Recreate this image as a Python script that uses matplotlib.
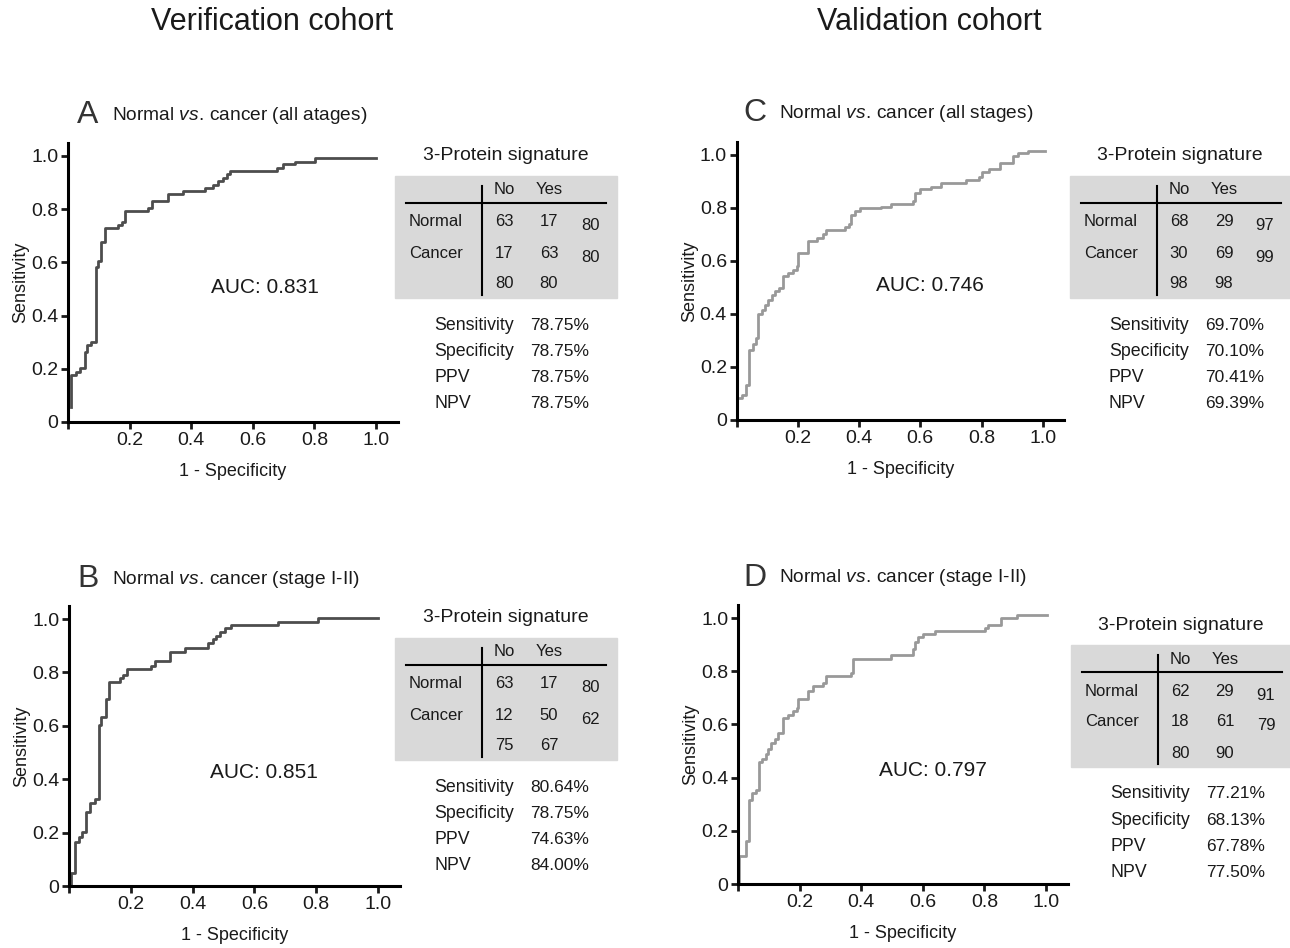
import matplotlib
matplotlib.use('Agg')
import matplotlib.pyplot as plt
from matplotlib.patches import Rectangle
from matplotlib.lines import Line2D

plt.rcParams['font.family'] = ['Liberation Sans', 'DejaVu Sans']
plt.rcParams['mathtext.fontset'] = 'custom'
plt.rcParams['mathtext.rm'] = 'Liberation Sans'
plt.rcParams['mathtext.it'] = 'Liberation Sans:italic'

W, H = 1290, 948

# ROC curves (1 - specificity, sensitivity)
fpr_a = [0.011, 0.011, 0.025, 0.038, 0.054, 0.062, 0.076, 0.090, 0.098, 0.108, 0.119, 0.163, 0.176, 0.184,
         0.260, 0.274, 0.325, 0.374, 0.444, 0.471, 0.488, 0.502, 0.515, 0.525, 0.677, 0.699, 0.737, 0.802, 1.0]
tpr_a = [0.056, 0.176, 0.188, 0.201, 0.263, 0.289, 0.301, 0.583, 0.605, 0.678, 0.728, 0.740, 0.753, 0.793,
         0.803, 0.831, 0.856, 0.868, 0.881, 0.891, 0.906, 0.918, 0.931, 0.944, 0.956, 0.969, 0.979, 0.994, 0.994]

fpr_b = [0.008, 0.008, 0.018, 0.031, 0.043, 0.056, 0.069, 0.083, 0.096, 0.105, 0.119, 0.129, 0.164, 0.175,
         0.189, 0.266, 0.279, 0.326, 0.374, 0.450, 0.466, 0.477, 0.488, 0.504, 0.525, 0.676, 0.806, 1.0]
tpr_b = [0.0, 0.047, 0.166, 0.182, 0.201, 0.278, 0.310, 0.326, 0.603, 0.634, 0.699, 0.763, 0.778, 0.790,
         0.811, 0.824, 0.843, 0.878, 0.893, 0.911, 0.924, 0.936, 0.953, 0.965, 0.978, 0.990, 1.002, 1.002]

fpr_c = [0.002, 0.002, 0.016, 0.030, 0.041, 0.052, 0.063, 0.071, 0.082, 0.092, 0.103, 0.114, 0.125, 0.139,
         0.150, 0.168, 0.183, 0.196, 0.201, 0.232, 0.261, 0.283, 0.291, 0.353, 0.367, 0.375, 0.386, 0.402,
         0.473, 0.505, 0.576, 0.582, 0.598, 0.636, 0.668, 0.750, 0.791, 0.802, 0.826, 0.859, 0.902, 0.918,
         0.951, 1.008]
tpr_c = [0.0, 0.082, 0.094, 0.132, 0.264, 0.286, 0.308, 0.399, 0.415, 0.434, 0.453, 0.472, 0.487, 0.499,
         0.543, 0.556, 0.566, 0.581, 0.631, 0.675, 0.686, 0.701, 0.717, 0.727, 0.738, 0.774, 0.789, 0.799,
         0.805, 0.814, 0.826, 0.855, 0.870, 0.881, 0.893, 0.906, 0.915, 0.937, 0.946, 0.971, 0.996, 1.006,
         1.016, 1.016]

fpr_d = [0.003, 0.003, 0.025, 0.036, 0.047, 0.057, 0.068, 0.079, 0.090, 0.098, 0.108, 0.119, 0.130, 0.146,
         0.163, 0.177, 0.190, 0.195, 0.228, 0.242, 0.276, 0.287, 0.368, 0.374, 0.498, 0.567, 0.574, 0.585,
         0.601, 0.639, 0.802, 0.813, 0.853, 0.905, 1.002]
tpr_d = [0.0, 0.105, 0.163, 0.316, 0.341, 0.354, 0.457, 0.469, 0.488, 0.507, 0.529, 0.545, 0.567, 0.624,
         0.636, 0.649, 0.661, 0.696, 0.726, 0.743, 0.755, 0.783, 0.795, 0.846, 0.862, 0.883, 0.908, 0.927,
         0.940, 0.950, 0.962, 0.975, 1.000, 1.013, 1.013]

auc_a, auc_b, auc_c, auc_d = '0.831', '0.851', '0.746', '0.797'

ticks = [0, 0.2, 0.4, 0.6, 0.8, 1.0]
xtick_labels = ['', '0.2', '0.4', '0.6', '0.8', '1.0']
ytick_labels = ['0', '0.2', '0.4', '0.6', '0.8', '1.0']

col_head = ['No', 'Yes']
row_head = ['Normal', 'Cancer']
stat_names = ['Sensitivity', 'Specificity', 'PPV', 'NPV']

counts_a = [[63, 17, 80], [17, 63, 80], [80, 80]]
counts_b = [[63, 17, 80], [12, 50, 62], [75, 67]]
counts_c = [[68, 29, 97], [30, 69, 99], [98, 98]]
counts_d = [[62, 29, 91], [18, 61, 79], [80, 90]]

stats_a = ['78.75%', '78.75%', '78.75%', '78.75%']
stats_b = ['80.64%', '78.75%', '74.63%', '84.00%']
stats_c = ['69.70%', '70.10%', '70.41%', '69.39%']
stats_d = ['77.21%', '68.13%', '67.78%', '77.50%']

fig = plt.figure(figsize=(W / 100, H / 100), dpi=100)
fig.patch.set_facecolor('white')


def txt(x, y, s, **kw):
    # x, y in pixels from top-left
    kw.setdefault('va', 'center')
    kw.setdefault('color', '#1a1a1a')
    fig.text(x / W, 1 - y / H, s, **kw)


def hline(x0, x1, y, lw=1.5):
    fig.add_artist(Line2D([x0 / W, x1 / W], [1 - y / H, 1 - y / H], color='black', lw=lw))


def vline(x, y0, y1, lw=1.5):
    fig.add_artist(Line2D([x / W, x / W], [1 - y0 / H, 1 - y1 / H], color='black', lw=lw))


def roc_panel(rect, fpr, tpr, color, auc, auc_pos):
    ax = fig.add_axes(rect)
    ax.plot(fpr, tpr, drawstyle='steps-post', color=color, lw=2.0, clip_on=False)
    ax.set_xlim(0, 1.07)
    ax.set_ylim(0, 1.05)
    ax.set_xticks(ticks)
    ax.set_xticklabels(xtick_labels)
    ax.set_yticks(ticks)
    ax.set_yticklabels(ytick_labels)
    for s in ['top', 'right']:
        ax.spines[s].set_visible(False)
    for s in ['left', 'bottom']:
        ax.spines[s].set_linewidth(2.2)
    ax.tick_params(direction='out', length=5, width=2, labelsize=14, pad=2, colors='#1a1a1a')
    ax.set_xlabel('1 - Specificity', fontsize=13, labelpad=10, color='#1a1a1a')
    ax.set_ylabel('Sensitivity', fontsize=13, labelpad=1, color='#1a1a1a')
    ax.text(auc_pos[0], auc_pos[1], 'AUC: ' + auc, fontsize=15, ha='center', va='center', color='#1a1a1a')
    ax.patch.set_alpha(0)
    return ax


def table(x0, y0, w, counts, stats):
    txt(x0 + w / 2, y0 - 20, '3-Protein signature', ha='center', fontsize=14)
    fig.add_artist(Rectangle((x0 / W, 1 - (y0 + 122) / H), w / W, 122 / H,
                             transform=fig.transFigure, color='#d9d9d9', zorder=0))
    cols = [x0 + 109, x0 + 154, x0 + 195]
    txt(cols[0], y0 + 14, col_head[0], ha='center', fontsize=12)
    txt(cols[1], y0 + 14, col_head[1], ha='center', fontsize=12)
    hline(x0 + 11, x0 + 211, y0 + 27)
    vline(x0 + 87, y0 + 10, y0 + 119)
    rows_y = [y0 + 46, y0 + 77]
    for i in range(2):
        txt(x0 + 14, rows_y[i], row_head[i], ha='left', fontsize=12)
        txt(cols[0], rows_y[i], str(counts[i][0]), ha='center', fontsize=12)
        txt(cols[1], rows_y[i], str(counts[i][1]), ha='center', fontsize=12)
        txt(cols[2], rows_y[i] + 4, str(counts[i][2]), ha='center', fontsize=12)
    txt(cols[0], y0 + 108, str(counts[2][0]), ha='center', fontsize=12)
    txt(cols[1], y0 + 108, str(counts[2][1]), ha='center', fontsize=12)
    for i in range(4):
        y = y0 + 149 + 26.3 * i
        txt(x0 + 39, y, stat_names[i], ha='left', fontsize=12.8)
        txt(x0 + 135, y, stats[i], ha='left', fontsize=12.5)


def panel_title(x, y, letter, rest):
    txt(x, y, letter, ha='center', fontsize=23, color='#333333')
    txt(x + 24, y, 'Normal $\\mathit{vs.}\\,$cancer ' + rest, ha='left', fontsize=13.8)


roc_panel([0.0527, 0.5549, 0.2555, 0.2946], fpr_a, tpr_a, '#4d4d4d', auc_a, (0.64, 0.507))
roc_panel([0.0535, 0.0654, 0.2563, 0.2957], fpr_b, tpr_b, '#4d4d4d', auc_b, (0.63, 0.427))
roc_panel([0.5711, 0.5570, 0.2538, 0.2935], fpr_c, tpr_c, '#999999', auc_c, (0.63, 0.506))
roc_panel([0.5721, 0.0675, 0.2555, 0.2946], fpr_d, tpr_d, '#999999', auc_d, (0.633, 0.425))

table(395, 176, 222, counts_a, stats_a)
table(395, 638, 222, counts_b, stats_b)
table(1070, 176, 220, counts_c, stats_c)
table(1071, 645, 219, counts_d, stats_d)

txt(272, 22, 'Verification cohort', ha='center', fontsize=22)
txt(929, 22, 'Validation cohort', ha='center', fontsize=22)

panel_title(88, 115, 'A', '(all atages)')
panel_title(88, 579, 'B', '(stage I-II)')
panel_title(755, 113, 'C', '(all stages)')
panel_title(755, 578, 'D', '(stage I-II)')

fig.savefig('out.png', dpi=100)
